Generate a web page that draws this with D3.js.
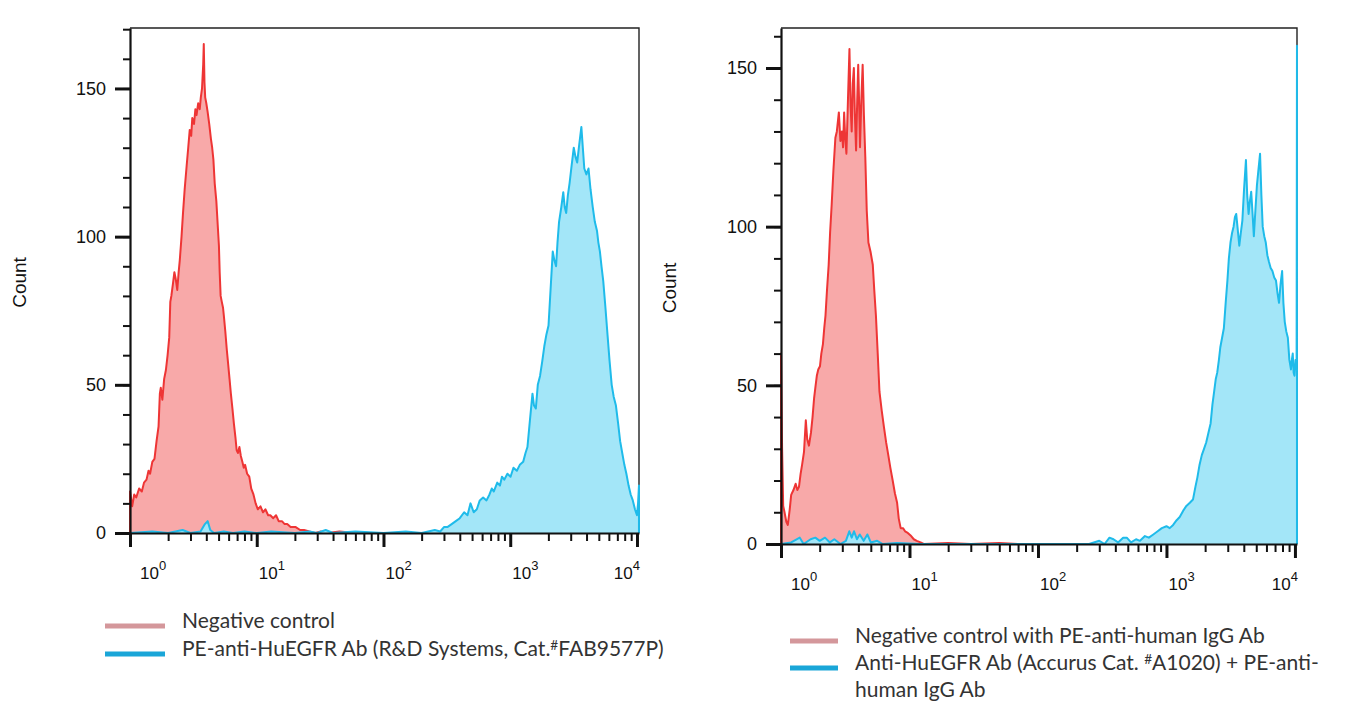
<!DOCTYPE html>
<html>
<head>
<meta charset="utf-8">
<script src="https://cdn.jsdelivr.net/npm/d3@7"></script>
<style>
  body { margin: 0; background: #fff; }
  svg text { font-family: "Liberation Sans", Arial, sans-serif; fill: #111; }
  svg .legend text { font-family: Lato, "Open Sans", sans-serif; fill: #333; }
</style>
</head>
<body>
<div id="chart"></div>
<script>
// Y-axis ticks (counts) and x-axis decades (log10 of fluorescence)
const yTicks = [0, 50, 100, 150];
const xDecades = [0, 1, 2, 3, 4];

// Histogram traces as [fluorescence, count]
const leftNegative = [
  [1.00, 0], [1.00, 14], [1.04, 9], [1.08, 13], [1.12, 12], [1.18, 15], [1.24, 14], [1.29, 17],
  [1.35, 18], [1.40, 21], [1.44, 20], [1.50, 24], [1.56, 25], [1.62, 31], [1.68, 36], [1.72, 47],
  [1.75, 49], [1.80, 45], [1.86, 52], [1.92, 55], [1.98, 60], [2.04, 66], [2.08, 78], [2.12, 80],
  [2.18, 84], [2.24, 88], [2.29, 86], [2.36, 82], [2.42, 88], [2.47, 92], [2.55, 100], [2.62, 108],
  [2.70, 116], [2.80, 124], [2.88, 130], [2.96, 136], [3.04, 134], [3.10, 140], [3.20, 138],
  [3.28, 143], [3.35, 141], [3.45, 145], [3.55, 143], [3.62, 147], [3.70, 150], [3.78, 158],
  [3.82, 165], [3.87, 152], [3.92, 147], [4.00, 145], [4.10, 142], [4.22, 138], [4.35, 133],
  [4.45, 130], [4.55, 126], [4.66, 118], [4.80, 112], [4.92, 104], [5.03, 97], [5.10, 88],
  [5.19, 80], [5.30, 78], [5.42, 76], [5.51, 73], [5.65, 68], [5.80, 62], [5.95, 57], [6.10, 52],
  [6.25, 47], [6.43, 42], [6.60, 37], [6.80, 32], [6.94, 28], [7.10, 27], [7.30, 29], [7.49, 26],
  [7.70, 24], [7.90, 22], [8.09, 23], [8.40, 20], [8.73, 19], [9.05, 15], [9.42, 13], [9.80, 10],
  [10.2, 8], [10.7, 9], [11.2, 7], [11.7, 8], [12.3, 6], [12.8, 6], [13.5, 5], [14.2, 6], [14.9, 4],
  [15.8, 4], [16.6, 3], [17.4, 3], [18.5, 2], [20.3, 2], [22, 1], [23.6, 1], [26, 0.5], [29, 0],
  [32, 0.5], [36, 0], [45, 0.5], [60, 0], [10370, 0]
];

const leftPositive = [
  [1.0, 0], [1.5, 0.5], [2.0, 0], [2.6, 1], [3.0, 0], [3.6, 0.5], [3.9, 3], [4.1, 4], [4.3, 1],
  [4.6, 0], [5.5, 0.5], [6.5, 0], [8, 0.5], [10, 0], [13, 0.5], [20, 0], [26, 0.5], [30, 0],
  [35, 1], [40, 0], [60, 0.5], [100, 0], [150, 0.5], [200, 0], [254, 1], [280, 0.5], [300, 2],
  [319, 2], [345, 3], [372, 4], [400, 5], [433, 7], [460, 6], [486, 10], [515, 7], [545, 8],
  [575, 11], [611, 12], [650, 11], [686, 13], [715, 15], [741, 14], [790, 17], [830, 16],
  [860, 19], [897, 18], [950, 20], [1006, 19], [1060, 22], [1128, 21], [1190, 23], [1265, 24],
  [1320, 27], [1367, 29], [1430, 38], [1498, 47], [1540, 43], [1592, 42], [1650, 50], [1719, 53],
  [1790, 58], [1857, 63], [1930, 67], [2005, 70], [2080, 82], [2165, 95], [2230, 92], [2300, 90],
  [2360, 98], [2428, 105], [2530, 110], [2621, 115], [2690, 110], [2764, 108], [2850, 114],
  [2938, 118], [3050, 124], [3172, 130], [3270, 127], [3374, 125], [3500, 131], [3642, 137],
  [3740, 130], [3841, 123], [3990, 121], [4147, 123], [4300, 116], [4478, 110], [4650, 105],
  [4835, 102], [4960, 98], [5098, 95], [5250, 90], [5420, 85], [5640, 76], [5852, 67], [6080, 58],
  [6318, 50], [6550, 46], [6822, 43], [7100, 37], [7366, 31], [7650, 27], [7953, 23], [8250, 20],
  [8587, 16], [8920, 13], [9271, 11], [9640, 8], [10000, 6], [10200, 10], [10370, 16], [10370, 0]
];

const rightNegative = [
  [1.0, 0], [1.0, 60], [1.02, 30], [1.04, 12], [1.065, 10], [1.10, 7], [1.13, 6], [1.17, 11],
  [1.20, 15.5], [1.25, 17], [1.30, 19], [1.34, 17], [1.38, 18], [1.42, 22], [1.46, 25], [1.51, 29],
  [1.56, 39], [1.60, 33], [1.65, 31], [1.71, 35], [1.76, 40], [1.81, 46], [1.86, 50], [1.90, 53],
  [1.95, 55], [2.01, 56], [2.06, 60], [2.12, 63], [2.17, 68], [2.22, 72], [2.28, 80], [2.35, 88],
  [2.41, 98], [2.48, 107], [2.56, 118], [2.65, 128], [2.72, 130], [2.82, 136], [2.90, 127],
  [2.98, 130], [3.04, 125], [3.10, 136], [3.16, 128], [3.23, 123], [3.32, 140], [3.41, 156],
  [3.48, 138], [3.55, 130], [3.62, 145], [3.69, 150], [3.76, 135], [3.84, 124], [3.92, 140],
  [3.99, 151], [4.06, 138], [4.12, 125], [4.22, 140], [4.32, 151], [4.42, 135], [4.53, 122],
  [4.65, 105], [4.79, 95], [4.98, 92], [5.18, 88], [5.32, 80], [5.48, 72], [5.66, 60], [5.84, 48],
  [6.08, 42], [6.32, 37], [6.58, 32], [6.84, 28], [7.10, 24], [7.40, 20], [7.70, 16], [8.01, 13],
  [8.25, 8], [8.54, 5], [8.9, 5], [9.24, 4], [9.7, 3.5], [10.2, 2.7], [10.8, 1.5], [11.4, 1],
  [12.2, 0.5], [12.9, 0], [20, 0.3], [30, 0], [50, 0.3], [70, 0], [10370, 0]
];

const rightPositive = [
  [1.0, 0], [1.2, 0.5], [1.4, 2], [1.5, 0], [1.7, 1.5], [1.85, 2], [2.0, 1], [2.2, 2], [2.4, 0.5],
  [2.6, 1.5], [2.9, 0], [3.2, 1], [3.4, 4], [3.55, 2], [3.7, 4], [3.9, 1.5], [4.1, 3], [4.4, 1],
  [4.7, 3], [5.0, 0.5], [5.6, 1], [6.2, 0], [8, 0.3], [12, 0], [250, 0], [300, 1], [330, 0],
  [360, 2], [387, 1.5], [420, 0.5], [460, 2], [491, 2], [530, 0.5], [580, 1.5], [622, 1],
  [680, 2.5], [729, 2], [790, 3], [854, 4], [920, 5], [1000, 5.6], [1060, 5], [1127, 6],
  [1200, 7.5], [1268, 8.5], [1350, 10.5], [1429, 12], [1520, 13], [1608, 14], [1680, 18],
  [1741, 21], [1810, 25], [1884, 28], [1960, 30], [2038, 32], [2120, 35], [2206, 38], [2280, 44],
  [2350, 48], [2420, 52], [2484, 54], [2560, 58], [2625, 62], [2710, 65], [2797, 68], [2890, 76],
  [2981, 83], [3060, 90], [3150, 95], [3240, 98], [3329, 100], [3410, 103], [3490, 104],
  [3590, 99], [3689, 94], [3790, 98], [3899, 102], [4020, 112], [4155, 121], [4250, 110],
  [4358, 104], [4460, 108], [4567, 111], [4680, 104], [4788, 97], [4920, 105], [5058, 113],
  [5200, 118], [5352, 123], [5480, 110], [5611, 100], [5770, 97], [5930, 95], [6100, 91],
  [6268, 89], [6470, 87], [6680, 86], [6900, 84], [7120, 83], [7320, 79], [7517, 76], [7730, 82],
  [7947, 86], [8130, 76], [8332, 70], [8560, 67], [8806, 65], [9050, 58], [9310, 55], [9460, 58],
  [9613, 60], [9770, 54], [9925, 53], [10100, 58], [10300, 55], [10370, 157], [10370, 0]
];

const leftLegend = ["Negative control", "PE-anti-HuEGFR Ab (R&D Systems, Cat.#FAB9577P)"];
const rightLegend = [["Negative control with PE-anti-human IgG Ab"],
                     ["Anti-HuEGFR Ab (Accurus Cat. #A1020) + PE-anti-", "human IgG Ab"]];

const xMax = Math.pow(10, 4.016);

const red = { fill: "#f8a9a9", stroke: "#ee3535", swatch: "#d4979b" };
const blue = { fill: "#a3e6f8", stroke: "#1fbbea", swatch: "#1aa6d8" };

const svg = d3.select("#chart").append("svg")
  .attr("width", 1350)
  .attr("height", 717);

const panels = [
  { x0: 130, x1: 639, y0: 533, y1: 28, yMax: 170.4, countX: 19,
    series: [leftNegative, leftPositive],
    legend: [[leftLegend[0]], [leftLegend[1]]],
    swatchX: 105, swatchW: 60, textX: 182, lineY: 621, lineH: 28 },
  { x0: 781, x1: 1297, y0: 544, y1: 28, yMax: 162.6, countX: 669,
    series: [rightNegative, rightPositive],
    legend: rightLegend,
    swatchX: 790, swatchW: 48, textX: 855, lineY: 636, lineH: 27 }
];

function superText(sel, str) {
  // "#" in the catalogue numbers is drawn raised and small
  const parts = str.split("#");
  parts.forEach((p, i) => {
    if (i > 0) sel.append("tspan").attr("baseline-shift", "40%").attr("font-size", "65%").text("#");
    sel.append("tspan").text(p);
  });
}

function drawPanel(p) {
  const x = d3.scaleLog().domain([1, xMax]).range([p.x0, p.x1]);
  const y = d3.scaleLinear().domain([0, p.yMax]).range([p.y0, p.y1]);
  const g = svg.append("g");

  // top and right frame
  g.append("path")
    .attr("d", `M${p.x0},${p.y1}H${p.x1}V${p.y0}`)
    .attr("fill", "none")
    .attr("stroke", "#222")
    .attr("stroke-width", 1.4);

  const area = d3.area().x(d => x(d[0])).y0(y(0)).y1(d => y(d[1]));
  const line = d3.line().x(d => x(d[0])).y(d => y(d[1]));

  [red, blue].forEach((c, i) => {
    g.append("path").datum(p.series[i]).attr("d", area).attr("fill", c.fill);
    g.append("path").datum(p.series[i]).attr("d", line)
      .attr("fill", "none")
      .attr("stroke", c.stroke)
      .attr("stroke-width", 2)
      .attr("stroke-linejoin", "round");
  });

  // y axis: minor ticks every 10, major ticks with labels
  g.append("g")
    .attr("transform", `translate(${p.x0},0)`)
    .call(d3.axisLeft(y).tickValues(d3.range(0, p.yMax, 10)).tickSize(7).tickFormat(""))
    .call(a => a.select(".domain").remove())
    .call(a => a.selectAll("line").attr("stroke", "#111").attr("stroke-width", 2));
  g.append("g")
    .attr("transform", `translate(${p.x0},0)`)
    .call(d3.axisLeft(y).tickValues(yTicks).tickSize(15).tickSizeOuter(0).tickPadding(9))
    .call(a => a.select(".domain").attr("stroke", "#111").attr("stroke-width", 2.2))
    .call(a => a.selectAll("line").attr("stroke", "#111").attr("stroke-width", 3))
    .call(a => a.selectAll("text").attr("font-size", 18).attr("font-family", "Liberation Sans, Arial, sans-serif").attr("fill", "#111"));

  // x axis: minor log ticks 2..9 in each decade, major ticks at decades
  const minor = [];
  xDecades.forEach(k => d3.range(2, 10).forEach(m => {
    const v = m * Math.pow(10, k);
    if (v < xMax) minor.push(v);
  }));
  g.append("g")
    .attr("transform", `translate(0,${p.y0})`)
    .call(d3.axisBottom(x).tickValues(minor).tickSize(8).tickFormat(""))
    .call(a => a.select(".domain").remove())
    .call(a => a.selectAll("line").attr("stroke", "#111").attr("stroke-width", 2));
  g.append("g")
    .attr("transform", `translate(0,${p.y0})`)
    .call(d3.axisBottom(x).tickValues(xDecades.map(k => Math.pow(10, k))).tickSize(14).tickSizeOuter(0).tickFormat(""))
    .call(a => a.select(".domain").attr("stroke", "#111").attr("stroke-width", 2.2))
    .call(a => a.selectAll("line").attr("stroke", "#111").attr("stroke-width", 3));

  xDecades.forEach((k, i) => {
    const tx = x(Math.pow(10, k));
    const last = i === xDecades.length - 1;
    const t = g.append("text")
      .attr("x", last ? tx + 3 : tx + (i === 0 ? 10 : 2))
      .attr("y", p.y0 + 46)
      .attr("text-anchor", last ? "end" : "start")
      .attr("font-size", 17);
    t.append("tspan").text("10");
    t.append("tspan").attr("dy", -9).attr("font-size", 13).text(k);
  });

  // y axis title
  g.append("text")
    .attr("transform", `translate(${p.countX},${(p.y0 + p.y1) / 2 + 2}) rotate(-90)`)
    .attr("dy", "0.35em")
    .attr("text-anchor", "middle")
    .attr("font-size", 19)
    .text("Count");

  // legend
  const lg = g.append("g").attr("class", "legend");
  let row = 0;
  p.legend.forEach((lines, i) => {
    const c = i === 0 ? red : blue;
    const cy = p.lineY + row * p.lineH;
    lg.append("line")
      .attr("x1", p.swatchX).attr("x2", p.swatchX + p.swatchW)
      .attr("y1", cy + 5).attr("y2", cy + 5)
      .attr("stroke", c.swatch)
      .attr("stroke-width", 5);
    lines.forEach(str => {
      const t = lg.append("text")
        .attr("x", p.textX)
        .attr("y", p.lineY + row * p.lineH)
        .attr("dy", "0.35em")
        .attr("font-size", 21);
      superText(t, str);
      row++;
    });
  });
}

panels.forEach(drawPanel);
</script>
</body>
</html>
